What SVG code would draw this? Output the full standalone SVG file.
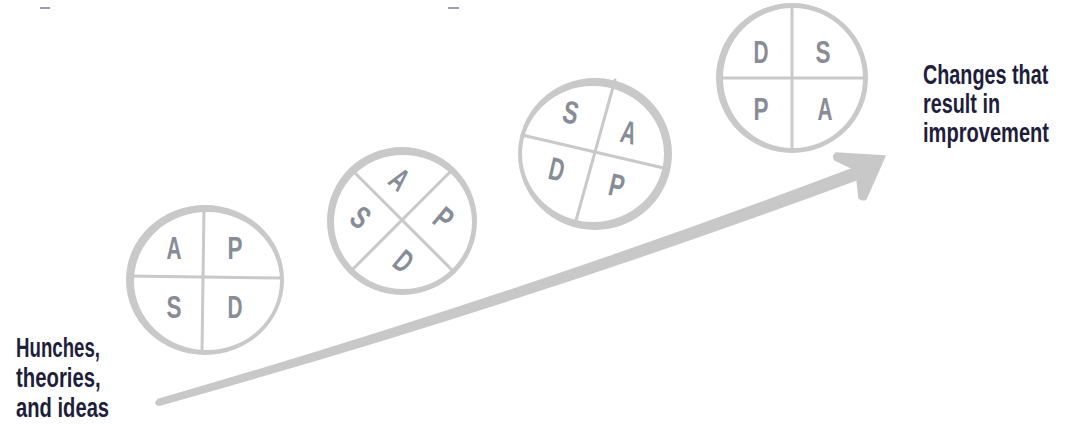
<svg xmlns="http://www.w3.org/2000/svg" width="1072" height="425" viewBox="0 0 1072 425">
<style>
.ring{fill:#c9c9c9;fill-rule:evenodd;stroke:none}
.cross{stroke:#c9c9c9;stroke-width:3;fill:none;stroke-linecap:round}
.ltr{font-family:"Liberation Sans Narrow","Liberation Sans",sans-serif;font-weight:bold;font-size:32px;fill:#878c97;text-anchor:middle}
.lbl{font-family:"Liberation Sans Narrow","Liberation Sans",sans-serif;font-weight:bold;font-size:28px;fill:#1e1e3c}
.arrow{fill:#c8c8c8;stroke:#c8c8c8;stroke-width:1.5;stroke-linejoin:round}
</style>
<rect x="40" y="7" width="10" height="2" fill="#9a9fae"/>
<rect x="448" y="7" width="11" height="2" fill="#9a9fae"/>
<g id="connectors">
<path class="arrow" d="M158 399.5 Q520 295 862 165 L864 177 Q520 305 160 405 Q153 404.5 158 399.5 Z"/>
<path class="arrow" d="M885 156 L836 153 Q832 156 835 160 L856 170 L859 198 Q862 201 866 199 Z"/>
</g>
<g id="cycle1">
<path class="ring" d="M126 280 a79 75 0 1 0 158 0 a79 75 0 1 0 -158 0 Z M134 281 a73 69 0 1 0 146 0 a73 69 0 1 0 -146 0 Z"/>
<line class="cross" x1="204" y1="207" x2="202" y2="352"/>
<line class="cross" x1="128" y1="276" x2="282" y2="278"/>
<text class="ltr" x="174" y="259" textLength="15" lengthAdjust="spacingAndGlyphs">A</text>
<text class="ltr" x="235" y="259" textLength="15" lengthAdjust="spacingAndGlyphs">P</text>
<text class="ltr" x="174" y="318" textLength="15" lengthAdjust="spacingAndGlyphs">S</text>
<text class="ltr" x="235" y="318" textLength="15" lengthAdjust="spacingAndGlyphs">D</text>
</g>
<g id="cycle2">
<path class="ring" d="M327 221 a75 74 0 1 0 150 0 a75 74 0 1 0 -150 0 Z M334 222 a69 67 0 1 0 138 0 a69 67 0 1 0 -138 0 Z"/>
<line class="cross" x1="351" y1="169" x2="454" y2="272"/>
<line class="cross" x1="453" y1="169" x2="350" y2="272"/>
<text class="ltr" x="400" y="190.5" textLength="15" lengthAdjust="spacingAndGlyphs" transform="rotate(40 400 179)">A</text>
<text class="ltr" x="444" y="229.5" textLength="15" lengthAdjust="spacingAndGlyphs" transform="rotate(40 444 218)">P</text>
<text class="ltr" x="361" y="228.5" textLength="15" lengthAdjust="spacingAndGlyphs" transform="rotate(40 361 217)">S</text>
<text class="ltr" x="404" y="272.5" textLength="15" lengthAdjust="spacingAndGlyphs" transform="rotate(40 404 261)">D</text>
</g>
<g id="cycle3">
<path class="ring" d="M518 154 a77 76 0 1 0 154 0 a77 76 0 1 0 -154 0 Z M522 154 a71 68 0 1 0 142 0 a71 68 0 1 0 -142 0 Z"/>
<line class="cross" x1="522" y1="135" x2="668" y2="169"/>
<line class="cross" x1="615" y1="80" x2="575" y2="224"/>
<text class="ltr" x="571" y="123.5" textLength="15" lengthAdjust="spacingAndGlyphs" transform="rotate(13 571 112)">S</text>
<text class="ltr" x="629" y="143.5" textLength="15" lengthAdjust="spacingAndGlyphs" transform="rotate(13 629 132)">A</text>
<text class="ltr" x="557" y="180.5" textLength="15" lengthAdjust="spacingAndGlyphs" transform="rotate(13 557 169)">D</text>
<text class="ltr" x="617" y="196.5" textLength="15" lengthAdjust="spacingAndGlyphs" transform="rotate(13 617 185)">P</text>
</g>
<g id="cycle4">
<path class="ring" d="M716 78 a76 75 0 1 0 152 0 a76 75 0 1 0 -152 0 Z M723 78 a70 70 0 1 0 140 0 a70 70 0 1 0 -140 0 Z"/>
<line class="cross" x1="792" y1="5" x2="792" y2="151"/>
<line class="cross" x1="718" y1="78" x2="866" y2="78"/>
<text class="ltr" x="761" y="63" textLength="15" lengthAdjust="spacingAndGlyphs">D</text>
<text class="ltr" x="823" y="63" textLength="15" lengthAdjust="spacingAndGlyphs">S</text>
<text class="ltr" x="761" y="120" textLength="15" lengthAdjust="spacingAndGlyphs">P</text>
<text class="ltr" x="825" y="120" textLength="15" lengthAdjust="spacingAndGlyphs">A</text>
</g>
<g id="start-label">
<text class="lbl" transform="translate(16 357) scale(0.7 1)" textLength="120" lengthAdjust="spacingAndGlyphs">Hunches,</text>
<text class="lbl" transform="translate(16 387) scale(0.7 1)" textLength="121" lengthAdjust="spacingAndGlyphs">theories,</text>
<text class="lbl" transform="translate(16 417) scale(0.7 1)" textLength="133" lengthAdjust="spacingAndGlyphs">and ideas</text>
</g>
<g id="end-label">
<text class="lbl" transform="translate(923 84) scale(0.7 1)" textLength="179" lengthAdjust="spacingAndGlyphs">Changes that</text>
<text class="lbl" transform="translate(923 113) scale(0.7 1)" textLength="110" lengthAdjust="spacingAndGlyphs">result in</text>
<text class="lbl" transform="translate(923 142) scale(0.7 1)" textLength="180" lengthAdjust="spacingAndGlyphs">improvement</text>
</g>
</svg>
